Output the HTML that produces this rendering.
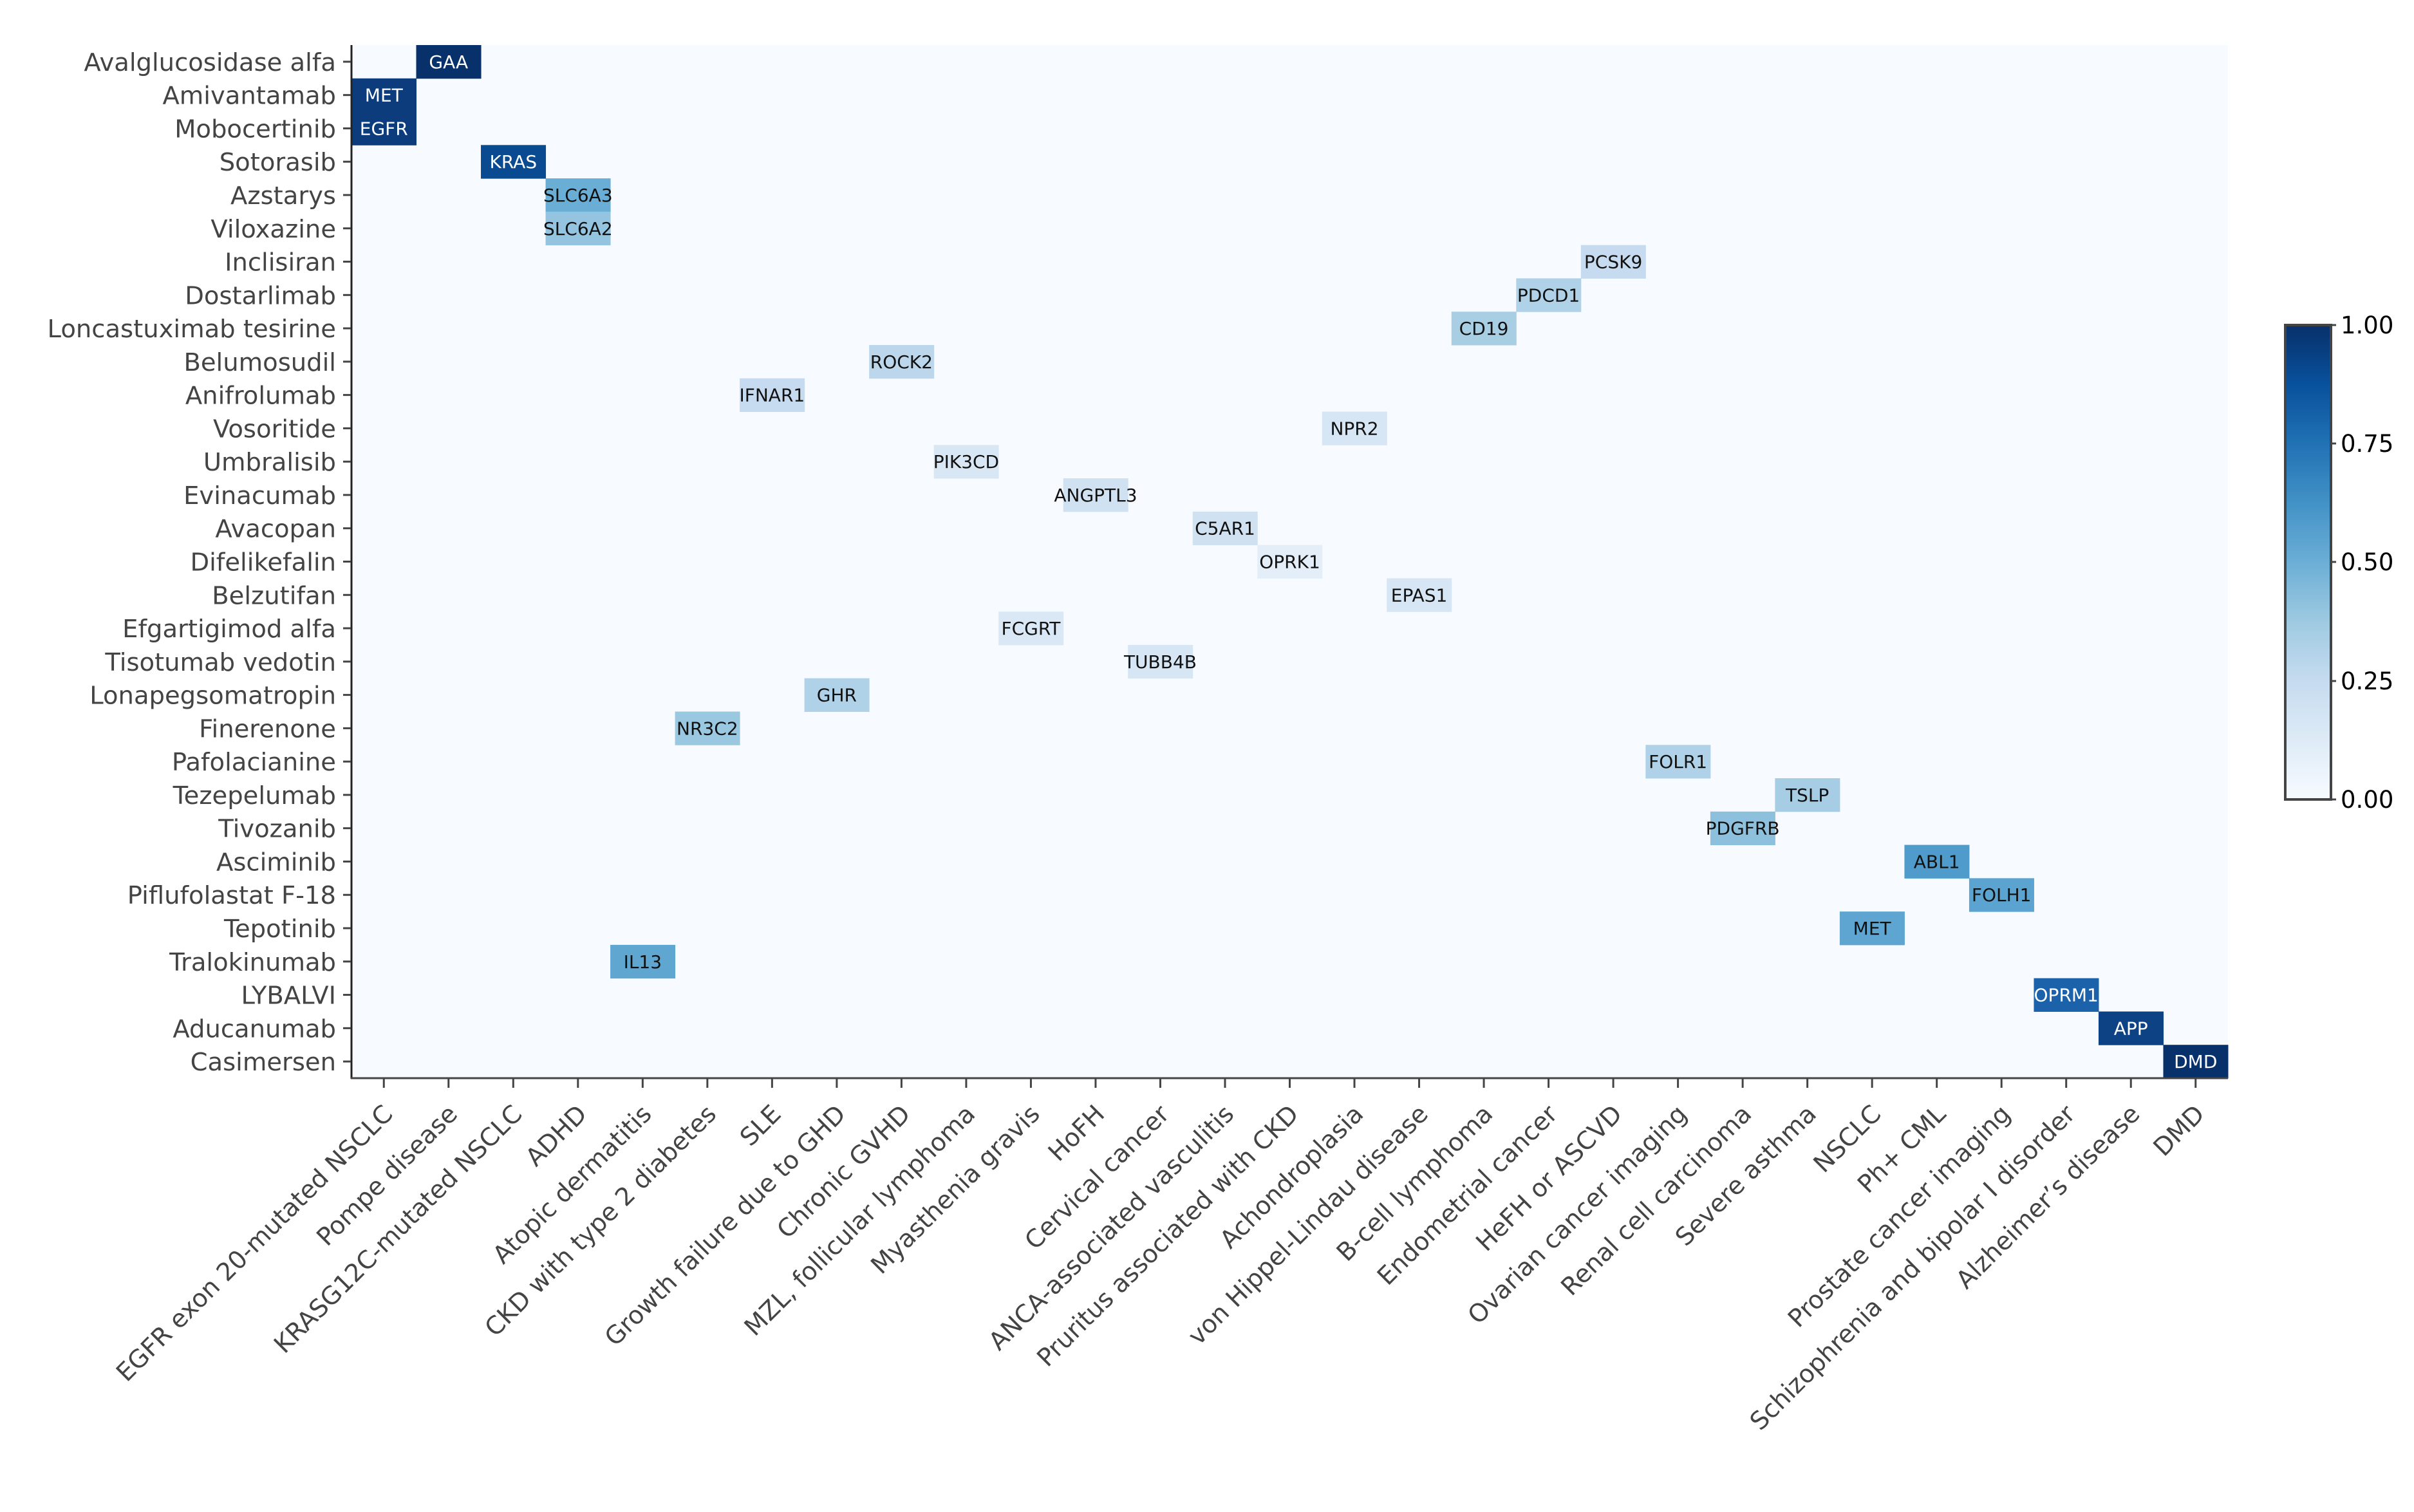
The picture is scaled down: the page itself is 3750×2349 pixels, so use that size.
<!DOCTYPE html>
<html><head><meta charset="utf-8"><style>
html,body{margin:0;padding:0;background:#fff;}
svg{display:block;}
text{font-family:"DejaVu Sans","Liberation Sans",sans-serif;}
</style></head><body>
<svg id="s" width="3750" height="2349" xmlns="http://www.w3.org/2000/svg">
<defs>
<linearGradient id="cb" x1="0" y1="1" x2="0" y2="0">
<stop offset="0" stop-color="#f7fbff"/>
<stop offset="0.125" stop-color="#deebf7"/>
<stop offset="0.25" stop-color="#c6dbef"/>
<stop offset="0.375" stop-color="#9ecae1"/>
<stop offset="0.5" stop-color="#6baed6"/>
<stop offset="0.625" stop-color="#4292c6"/>
<stop offset="0.75" stop-color="#2171b5"/>
<stop offset="0.875" stop-color="#08519c"/>
<stop offset="1" stop-color="#08306b"/>
</linearGradient>
</defs>
<rect x="546" y="70" width="2915" height="1605" fill="#f7fbff"/>
<g id="cells"></g>
<line x1="546" y1="70" x2="546" y2="1676" stroke="#222" stroke-width="3"/>
<line x1="545" y1="1675" x2="3461" y2="1675" stroke="#444" stroke-width="3"/>
<g id="yt"></g>
<g id="xt"></g>
<rect x="3550" y="505" width="71" height="737" fill="url(#cb)" stroke="#444" stroke-width="4"/>
<g font-size="37" fill="#000" style="font-family:'Liberation Sans',sans-serif">
<line x1="3621" y1="505" x2="3629" y2="505" stroke="#444" stroke-width="3"/><text x="3636" y="518">1.00</text>
<line x1="3621" y1="689" x2="3629" y2="689" stroke="#444" stroke-width="3"/><text x="3636" y="702">0.75</text>
<line x1="3621" y1="873" x2="3629" y2="873" stroke="#444" stroke-width="3"/><text x="3636" y="886">0.50</text>
<line x1="3621" y1="1058" x2="3629" y2="1058" stroke="#444" stroke-width="3"/><text x="3636" y="1071">0.25</text>
<line x1="3621" y1="1242" x2="3629" y2="1242" stroke="#444" stroke-width="3"/><text x="3636" y="1255">0.00</text>
</g>
</svg>
<script>
var rows=["Avalglucosidase alfa","Amivantamab","Mobocertinib","Sotorasib","Azstarys","Viloxazine","Inclisiran","Dostarlimab","Loncastuximab tesirine","Belumosudil","Anifrolumab","Vosoritide","Umbralisib","Evinacumab","Avacopan","Difelikefalin","Belzutifan","Efgartigimod alfa","Tisotumab vedotin","Lonapegsomatropin","Finerenone","Pafolacianine","Tezepelumab","Tivozanib","Asciminib","Piflufolastat F-18","Tepotinib","Tralokinumab","LYBALVI","Aducanumab","Casimersen"];
var cols=["EGFR exon 20-mutated NSCLC","Pompe disease","KRASG12C-mutated NSCLC","ADHD","Atopic dermatitis","CKD with type 2 diabetes","SLE","Growth failure due to GHD","Chronic GVHD","MZL, follicular lymphoma","Myasthenia gravis","HoFH","Cervical cancer","ANCA-associated vasculitis","Pruritus associated with CKD","Achondroplasia","von Hippel-Lindau disease","B-cell lymphoma","Endometrial cancer","HeFH or ASCVD","Ovarian cancer imaging","Renal cell carcinoma","Severe asthma","NSCLC","Ph+ CML","Prostate cancer imaging","Schizophrenia and bipolar I disorder","Alzheimer’s disease","DMD"];
var cells=[[0,1,"GAA","#08306b",1],[1,0,"MET","#0c3c7c",1],[2,0,"EGFR","#0c3c7c",1],[3,2,"KRAS","#0a4a90",1],[4,3,"SLC6A3","#6aaed6",0],[5,3,"SLC6A2","#94c4df",0],[6,19,"PCSK9","#c6dbef",0],[7,18,"PDCD1","#b0d2e8",0],[8,17,"CD19","#a8cee4",0],[9,8,"ROCK2","#bcd7eb",0],[10,6,"IFNAR1","#c6dbef",0],[11,15,"NPR2","#d6e6f4",0],[12,9,"PIK3CD","#d9e7f5",0],[13,11,"ANGPTL3","#d0e1f2",0],[14,13,"C5AR1","#d0e1f2",0],[15,14,"OPRK1","#e3eef9",0],[16,16,"EPAS1","#d6e6f4",0],[17,10,"FCGRT","#dae8f6",0],[18,12,"TUBB4B","#d6e6f4",0],[19,7,"GHR","#b0d2e8",0],[20,5,"NR3C2","#9ac8e0",0],[21,20,"FOLR1","#b0d2e8",0],[22,22,"TSLP","#a6cde3",0],[23,21,"PDGFRB","#8cc0dd",0],[24,24,"ABL1","#4f9bcb",0],[25,25,"FOLH1","#5ba3d0",0],[26,23,"MET","#5ea5d1",0],[27,4,"IL13","#5fa6d1",0],[28,26,"OPRM1","#1c62aa",1],[29,27,"APP","#0d4284",1],[30,28,"DMD","#08306b",1]];
var NS="http://www.w3.org/2000/svg",X0=546,Y0=70,CW=2915/29,RH=1605/31;
function el(t,a,p,txt){var e=document.createElementNS(NS,t);for(var k in a)e.setAttribute(k,a[k]);if(txt!=null)e.textContent=txt;p.appendChild(e);return e;}
var gc=document.getElementById("cells"),gy=document.getElementById("yt"),gx=document.getElementById("xt");
cells.forEach(function(c){var x=X0+c[1]*CW,y=Y0+c[0]*RH;el("rect",{x:x,y:y,width:CW+0.5,height:RH+0.5,fill:c[3]},gc);
el("text",{x:x+CW/2,y:y+RH/2+10,"text-anchor":"middle","font-size":"28",fill:c[4]?"#fff":"#111"},gc,c[2]);});
rows.forEach(function(r,i){var y=Y0+(i+0.5)*RH;el("line",{x1:533,y1:y,x2:545,y2:y,stroke:"#444","stroke-width":3},gy);
el("text",{x:522,y:y+14,"text-anchor":"end","font-size":"38.5",fill:"#444"},gy,r);});
cols.forEach(function(c,i){var x=X0+(i+0.5)*CW;el("line",{x1:x,y1:1676,x2:x,y2:1690,stroke:"#444","stroke-width":3},gx);
var bx=x+16,by=1733;el("text",{x:bx,y:by,"text-anchor":"end","font-size":"38.5",fill:"#444",transform:"rotate(-45 "+bx+" "+by+")"},gx,c);});
</script>
</body></html>
